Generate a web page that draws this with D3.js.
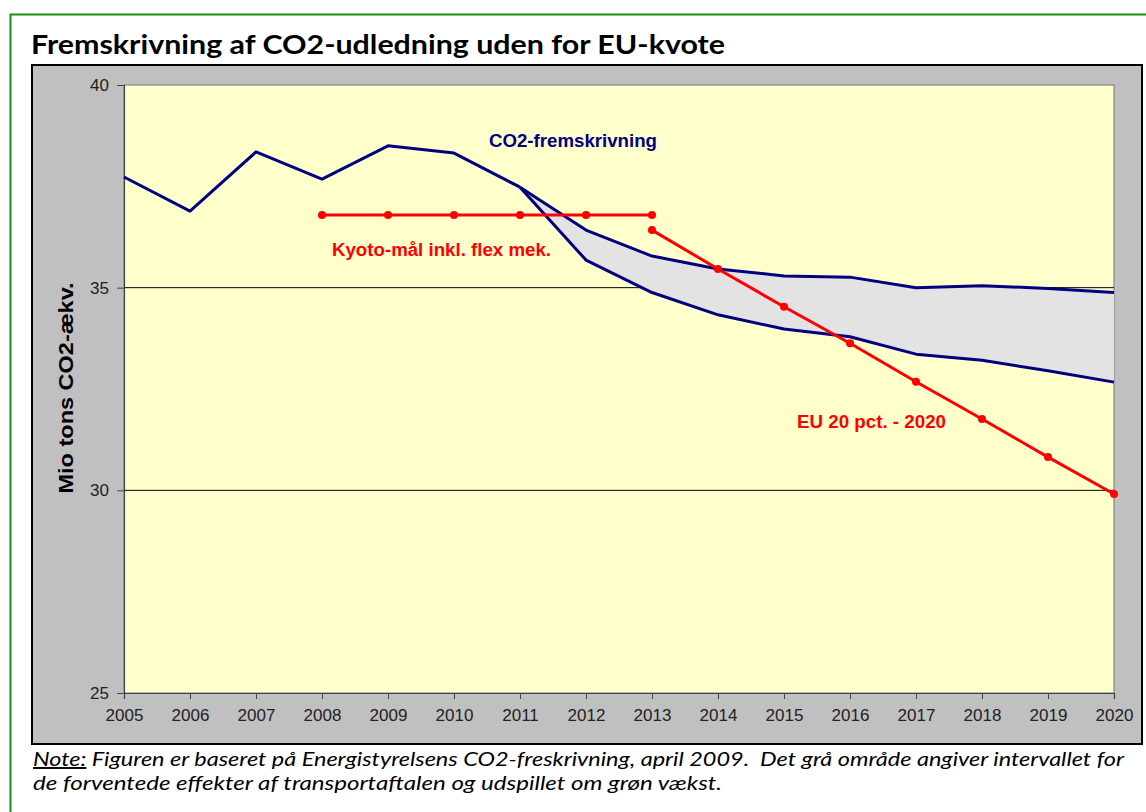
<!DOCTYPE html>
<html><head><meta charset="utf-8">
<script src="https://cdn.jsdelivr.net/npm/d3@7"></script>
<style>body{margin:0;background:#fff;}svg{display:block;}</style>
</head><body>
<script>
// ---- data ----
const years = [2005,2006,2007,2008,2009,2010,2011,2012,2013,2014,2015,2016,2017,2018,2019,2020];
const histYears = [2005,2006,2007,2008,2009,2010,2011];
const histValues = [37.73,36.89,38.35,37.68,38.50,38.32,37.48];
const projYears = [2011,2012,2013,2014,2015,2016,2017,2018,2019,2020];
const upperValues = [37.48,36.42,35.78,35.46,35.29,35.26,35.00,35.05,34.98,34.88];
const lowerValues = [37.48,35.68,34.88,34.33,33.98,33.79,33.36,33.21,32.95,32.67];
const kyotoYears = [2008,2009,2010,2011,2012,2013];
const kyotoValues = [36.79,36.79,36.79,36.79,36.79,36.79];
const euYears = [2013,2014,2015,2016,2017,2018,2019,2020];
const euValues = [36.42,35.46,34.53,33.63,32.68,31.76,30.82,29.91];
const yTicks = [25,30,35,40];
const title = "Fremskrivning af CO2-udledning uden for EU-kvote";
const yTitle = "Mio tons CO2-ækv.";
const labelCO2 = "CO2-fremskrivning";
const labelKyoto = "Kyoto-mål inkl. flex mek.";
const labelEU = "EU 20 pct. - 2020";
const noteLead = "Note:";
const noteLine1 = " Figuren er baseret på Energistyrelsens CO2-freskrivning, april 2009.  Det grå område angiver intervallet for";
const noteLine2 = "de forventede effekter af transportaftalen og udspillet om grøn vækst.";

const W = 1146, H = 812;
const svg = d3.select("body").append("svg").attr("width", W).attr("height", H);

// outer green frame
svg.append("rect").attr("x",10.5).attr("y",14.5).attr("width",1150).attr("height",820)
  .attr("fill","#fff").attr("stroke","#1a8c1a").attr("stroke-width",2);

// title
svg.append("text").attr("x",31).attr("y",54).text(title)
  .attr("font-family","Lato, 'Open Sans', sans-serif").attr("font-weight","bold")
  .attr("font-size",27).attr("fill","#000")
  .attr("textLength",694).attr("lengthAdjust","spacingAndGlyphs");

// chart frame
svg.append("rect").attr("x",32).attr("y",65).attr("width",1110).attr("height",679)
  .attr("fill","#c0c0c0").attr("stroke","#000").attr("stroke-width",2);

const x = d3.scaleLinear().domain([2005,2020]).range([124,1114]);
const y = d3.scaleLinear().domain([25,40]).range([693,85]);

// plot area
svg.append("rect").attr("x",x(2005)).attr("y",y(40)).attr("width",x(2020)-x(2005)).attr("height",y(25)-y(40))
  .attr("fill","#ffffcc").attr("stroke","#888").attr("stroke-width",1.2);

// gridlines
svg.append("g").selectAll("line").data([30,35]).join("line")
  .attr("x1",x(2005)).attr("x2",x(2020)).attr("y1",d=>y(d)).attr("y2",d=>y(d))
  .attr("stroke","#000").attr("stroke-width",1);

// axes
const fontAx = "'Liberation Sans', Arial, sans-serif";
const yAxis = svg.append("g").attr("transform",`translate(${x(2005)},0)`)
  .call(d3.axisLeft(y).tickValues(yTicks).tickSize(7).tickPadding(8).tickFormat(d3.format("d")));
const xAxis = svg.append("g").attr("transform",`translate(0,${y(25)})`)
  .call(d3.axisBottom(x).tickValues(years).tickSize(6).tickPadding(10).tickFormat(d3.format("d")));
[yAxis,xAxis].forEach(g=>{
  g.select(".domain").attr("stroke","#444").attr("stroke-width",1.2);
  g.selectAll(".tick line").attr("stroke","#444");
  g.selectAll(".tick text").attr("font-family",fontAx).attr("font-size",17).attr("fill","#222");
});

// y title
svg.append("text").attr("transform",`translate(73,388) rotate(-90)`).attr("text-anchor","middle")
  .text(yTitle).attr("font-family",fontAx).attr("font-weight","bold").attr("font-size",20.5).attr("fill","#000")
  .attr("textLength",211).attr("lengthAdjust","spacingAndGlyphs");

// gray band
const band = projYears.map((yr,i)=>({yr, hi:upperValues[i], lo:lowerValues[i]}));
svg.append("path").datum(band)
  .attr("d", d3.area().x(d=>x(d.yr)).y0(d=>y(d.lo)).y1(d=>y(d.hi)))
  .attr("fill","#e3e3e3");

const line = d3.line().x(d=>x(d[0])).y(d=>y(d[1]));
const navy = "#000080";
const zip = (a,b)=>a.map((v,i)=>[v,b[i]]);
[zip(histYears,histValues), zip(projYears,upperValues), zip(projYears,lowerValues)].forEach(pts=>{
  svg.append("path").datum(pts).attr("d",line).attr("fill","none")
    .attr("stroke",navy).attr("stroke-width",3).attr("stroke-linejoin","round");
});

const red = "#ff0000";
[zip(kyotoYears,kyotoValues), zip(euYears,euValues)].forEach(pts=>{
  svg.append("path").datum(pts).attr("d",line).attr("fill","none")
    .attr("stroke",red).attr("stroke-width",3);
  svg.append("g").selectAll("circle").data(pts).join("circle")
    .attr("cx",d=>x(d[0])).attr("cy",d=>y(d[1])).attr("r",4).attr("fill",red);
});

// series labels
function lab(t,xx,yy,col,len){
  svg.append("text").attr("x",xx).attr("y",yy).text(t)
    .attr("font-family",fontAx).attr("font-weight","bold").attr("font-size",17.5).attr("fill",col)
    .attr("textLength",len).attr("lengthAdjust","spacingAndGlyphs");
}
lab(labelCO2,489,147,navy,168);
lab(labelKyoto,332,256,red,219);
lab(labelEU,797,428,red,149);

// note
const note = svg.append("text").attr("x",33).attr("y",766)
  .attr("font-family","Lato, 'Open Sans', sans-serif").attr("font-style","italic")
  .attr("font-size",19.5).attr("fill","#000")
  .attr("textLength",1091).attr("lengthAdjust","spacingAndGlyphs");
note.append("tspan").text(noteLead).attr("text-decoration","underline");
note.append("tspan").text(noteLine1).style("white-space","pre");
note.attr("xml:space","preserve");
svg.append("text").attr("x",33).attr("y",790).text(noteLine2)
  .attr("font-family","Lato, 'Open Sans', sans-serif").attr("font-style","italic")
  .attr("font-size",19.5).attr("fill","#000")
  .attr("textLength",689).attr("lengthAdjust","spacingAndGlyphs");
</script>
</body></html>
